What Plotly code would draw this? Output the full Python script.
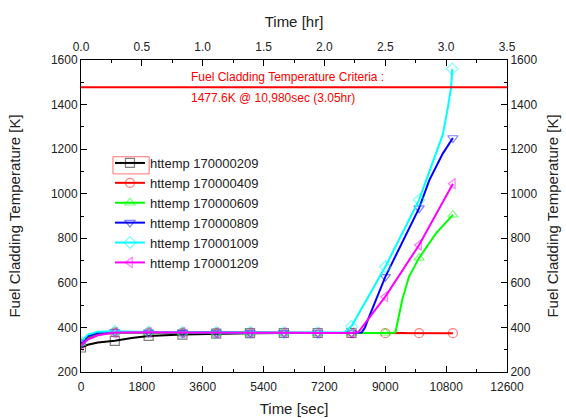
import plotly.graph_objects as go

# ---------------- data ----------------
series_names = ["httemp 170000209", "httemp 170000409", "httemp 170000609",
                "httemp 170000809", "httemp 170001009", "httemp 170001209"]

t_209 = [0, 200, 500, 1000, 1500, 2000, 3000, 4000, 5000, 6000, 7000, 8000, 9600]
T_209 = [310, 322, 332, 340, 353, 362, 368, 372, 374, 375, 375, 375, 375]

t_409 = [0, 200, 500, 1000, 2000, 3000, 4000, 5000, 6000, 7000, 8000, 9000, 10000, 11000]
T_409 = [326, 350, 368, 377, 377, 376, 376, 376, 375, 375, 375, 374, 374, 374]

t_609 = [0, 200, 500, 1000, 2000, 3000, 4000, 5000, 6000, 7000, 8000, 9000,
         9300, 9500, 9700, 10000, 10500, 11000]
T_609 = [330, 358, 375, 380, 378, 377, 376, 376, 376, 375, 375, 375,
         377, 523, 627, 712, 822, 905]

t_809 = [0, 200, 500, 1000, 2000, 3000, 4000, 5000, 6000, 7000, 8000,
         8300, 8400, 8500, 9000, 10000, 10300, 10700, 11000]
T_809 = [330, 360, 376, 380, 378, 377, 376, 376, 376, 375, 375,
         377, 400, 440, 627, 935, 1060, 1180, 1250]

t_1009 = [0, 200, 500, 1000, 2000, 3000, 4000, 5000, 6000, 7000,
          7800, 8000, 9000, 10000, 10300, 10500, 10700, 10850, 10950, 10980]
T_1009 = [335, 368, 381, 383, 380, 378, 377, 377, 376, 376,
          378, 405, 672, 972, 1100, 1185, 1265, 1385, 1480, 1560]

t_1209 = [0, 200, 500, 1000, 2000, 3000, 4000, 5000, 6000, 7000, 8000,
          8200, 9000, 10000, 11000]
T_1209 = [320, 345, 365, 377, 378, 377, 376, 376, 376, 375, 375,
          378, 538, 770, 1045]

times = [t_209, t_409, t_609, t_809, t_1009, t_1209]
temps = [T_209, T_409, T_609, T_809, T_1009, T_1209]

CRITERIA_K = 1477.6
CRITERIA_SEC = 10980
MARK_EVERY = 1000

x_ticks_sec = [0, 1800, 3600, 5400, 7200, 9000, 10800, 12600]
y_ticks = [200, 400, 600, 800, 1000, 1200, 1400, 1600]
hr_ticks = [0.0, 0.5, 1.0, 1.5, 2.0, 2.5, 3.0, 3.5]

# ---------------- style ----------------
colors = ["#000000", "#FF0000", "#00FF00", "#0000FF", "#00FFFF", "#FF00FF"]
symbols = ["square-open", "circle-open", "triangle-up-open",
           "triangle-down-open", "diamond-open", "triangle-left-open"]
FONT = "Liberation Sans, Arial, sans-serif"

fig = go.Figure()

for name, t, T, c, s in zip(series_names, times, temps, colors, symbols):
    fig.add_trace(go.Scatter(x=t, y=T, mode="lines", line=dict(color=c, width=2),
                             showlegend=False, hoverinfo="skip", legendgroup=name))
    mx = [a for a in t if a % MARK_EVERY == 0 or a == CRITERIA_SEC]
    my = [b for a, b in zip(t, T) if a % MARK_EVERY == 0 or a == CRITERIA_SEC]
    fig.add_trace(go.Scatter(x=mx, y=my, mode="markers",
                             marker=dict(symbol=s, size=9, color=c, opacity=0.5,
                                         line=dict(width=1.2, color=c)),
                             showlegend=False, hoverinfo="skip", legendgroup=name))
    fig.add_trace(go.Scatter(x=[None], y=[None], mode="lines+markers", name=name,
                             line=dict(color=c, width=2),
                             marker=dict(symbol=s, size=9, color=c, opacity=0.5,
                                         line=dict(width=1.2, color=c)),
                             legendgroup=name))

# invisible trace to carry the secondary (hr / right) axes
fig.add_trace(go.Scatter(x=[a / 3600 for a in t_1009], y=T_1009, xaxis="x2", yaxis="y2",
                         mode="lines", opacity=0, showlegend=False, hoverinfo="skip"))

fig.add_hline(y=CRITERIA_K, line=dict(color="#FF0000", width=2))

fig.add_annotation(x=3180, y=1522, xref="x", yref="y", xanchor="left", yanchor="middle",
                   text="Fuel Cladding Temperature Criteria :", showarrow=False,
                   font=dict(color="#FF0000", size=12, family=FONT))
fig.add_annotation(x=3180, y=1431, xref="x", yref="y", xanchor="left", yanchor="middle",
                   text="1477.6K @ 10,980sec (3.05hr)", showarrow=False,
                   font=dict(color="#FF0000", size=12, family=FONT))

# highlight box around first legend symbol
fig.add_shape(type="rect", xref="paper", yref="paper", x0=0.075, x1=0.16, y0=0.635, y1=0.69,
              line=dict(color="rgba(255,0,0,0.55)", width=1), fillcolor="rgba(0,0,0,0)")

axis_common = dict(showline=True, linecolor="#000000", linewidth=1, ticks="inside",
                   ticklen=6, tickwidth=1, tickcolor="#000000", showgrid=False, zeroline=False,
                   automargin=False,
                   tickfont=dict(size=12, family=FONT, color="#222222"))

fig.update_layout(
    width=566, height=418,
    margin=dict(l=81, r=59, t=60, b=46, autoexpand=False),
    paper_bgcolor="white", plot_bgcolor="white",
    font=dict(family=FONT, color="#222222"),
    xaxis=dict(range=[0, 12600], tickvals=x_ticks_sec, ticktext=[str(v) for v in x_ticks_sec],
               minor=dict(dtick=900, ticks="inside", ticklen=3, tickcolor="#000000"),
               ticklabelstandoff=4,
               title=dict(text="Time [sec]", font=dict(size=15, family=FONT), standoff=10),
               **axis_common),
    xaxis2=dict(range=[0, 3.5], overlaying="x", side="top", anchor="y",
                tickvals=hr_ticks, ticktext=[f"{v:.1f}" for v in hr_ticks],
                ticklabelstandoff=3,
                minor=dict(dtick=0.25, ticks="inside", ticklen=3, tickcolor="#000000"),
                title=dict(text="Time [hr]", font=dict(size=15, family=FONT), standoff=8),
                **axis_common),
    yaxis=dict(range=[200, 1600], tickvals=y_ticks,
               minor=dict(dtick=100, ticks="inside", ticklen=3, tickcolor="#000000"),
               title=dict(text="Fuel Cladding Temperature [K]", font=dict(size=15, family=FONT),
                          standoff=26),
               **axis_common),
    yaxis2=dict(range=[200, 1600], overlaying="y", side="right", anchor="x",
                tickvals=y_ticks,
                minor=dict(dtick=100, ticks="inside", ticklen=3, tickcolor="#000000"),
                title=dict(text="Fuel Cladding Temperature [K]", font=dict(size=15, family=FONT),
                           standoff=11),
                **axis_common),
    legend=dict(x=0.068, y=0.718, xanchor="left", yanchor="top", bgcolor="rgba(0,0,0,0)",
                font=dict(size=13, family=FONT, color="#222222"), tracegroupgap=0,
                itemwidth=30),
    showlegend=True,
)

fig.write_html("out.html")
